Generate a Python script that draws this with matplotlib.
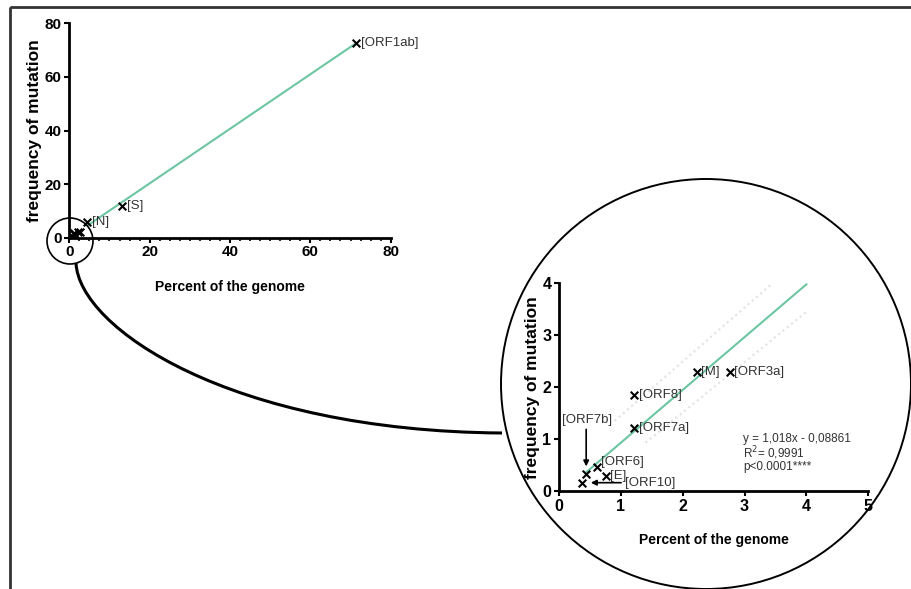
import matplotlib
matplotlib.use("Agg")
import matplotlib.pyplot as plt
from matplotlib.patches import Circle, Rectangle, PathPatch
from matplotlib.path import Path
from matplotlib.ticker import MultipleLocator

plt.rcParams['font.family'] = ['Liberation Sans', 'DejaVu Sans']

# data
genes = ['ORF1ab', 'S', 'N', 'M', 'ORF3a', 'ORF8', 'ORF7a', 'ORF6', 'E', 'ORF7b', 'ORF10']
genome_pct = [71.3, 13.0, 4.3, 2.23, 2.76, 1.22, 1.22, 0.61, 0.76, 0.44, 0.38]
mut_freq = [72.6, 11.8, 6.0, 2.29, 2.29, 1.84, 1.22, 0.47, 0.29, 0.32, 0.16]
label_dy = [0, 0, 0, 0, 0, 0, 0, 0.08, 0, 0, 0]

main_fit_x = [4.5, 71.3]
main_fit_y = [4.5, 72.5]
zoom_fit_x = [0.44, 4.0]
zoom_fit_y = [0.36, 3.98]
band_hi_x = [0.9, 3.45]
band_hi_y = [1.35, 4.0]
band_lo_x = [1.4, 4.0]
band_lo_y = [0.93, 3.45]

eq_lines = ['y = 1,018x - 0,08861', 'R$^2$= 0,9991', 'p<0.0001****']

green = '#6cc6a2'
txt = '#333333'

fig = plt.figure(figsize=(9.12, 5.89), dpi=100)


def style(ax, size):
    for s in ['top', 'right']:
        ax.spines[s].set_visible(False)
    for s in ['left', 'bottom']:
        ax.spines[s].set_linewidth(2.0)
    ax.tick_params(width=1.5, length=3.5, labelsize=size, pad=2)
    for lab in ax.get_xticklabels() + ax.get_yticklabels():
        lab.set_fontweight('bold')


# main chart
ax = fig.add_axes([0.076, 0.5964, 0.3524, 0.364])
ax.plot(main_fit_x, main_fit_y, color=green, lw=1.5, zorder=1)
ax.scatter(genome_pct, mut_freq, marker='x', color='black', s=30, lw=1.5, zorder=3)
for g, x, y in zip(genes[:3], genome_pct[:3], mut_freq[:3]):
    ax.text(x + 1.3, y, '[' + g + ']', fontsize=9.5, color=txt, va='center', ha='left')
ax.set_xlim(0, 80)
ax.set_ylim(0, 80)
ax.set_xticks([0, 20, 40, 60, 80])
ax.set_yticks([0, 20, 40, 60, 80])
ax.xaxis.set_minor_locator(MultipleLocator(2.5))
ax.tick_params(axis='x', which='minor', length=2, width=1.2)
style(ax, 11)
ax.set_xlabel('Percent of the genome', fontsize=10, fontweight='bold', labelpad=15)
ax.set_ylabel('frequency of mutation', fontsize=12.5, fontweight='bold', labelpad=2)

# zoomed chart
ax2 = fig.add_axes([0.6129, 0.1664, 0.3391, 0.3526])
ax2.plot(band_hi_x, band_hi_y, color='#e2e2e2', lw=1.5, ls=':', zorder=0)
ax2.plot(band_lo_x, band_lo_y, color='#e2e2e2', lw=1.5, ls=':', zorder=0)
ax2.plot(zoom_fit_x, zoom_fit_y, color=green, lw=1.5, zorder=1)
ax2.scatter(genome_pct[3:], mut_freq[3:], marker='x', color='black', s=30, lw=1.5, zorder=3)
for g, x, y, dy in zip(genes[3:9], genome_pct[3:9], mut_freq[3:9], label_dy[3:9]):
    ax2.text(x + 0.07, y + dy, '[' + g + ']', fontsize=9.5, color=txt, va='center', ha='left')
ax2.text(0.45, 1.37, '[ORF7b]', fontsize=9.5, color=txt, va='center', ha='center')
ax2.annotate('', xy=(0.44, 0.42), xytext=(0.44, 1.24),
             arrowprops=dict(arrowstyle='-|>', color='black', lw=1.2, mutation_scale=8))
ax2.text(1.07, 0.16, '[ORF10]', fontsize=9.5, color=txt, va='center', ha='left')
ax2.annotate('', xy=(0.47, 0.16), xytext=(1.05, 0.16),
             arrowprops=dict(arrowstyle='-|>', color='black', lw=1.2, mutation_scale=8))
for i, line in enumerate(eq_lines):
    ax2.text(2.98, 1.0 - i * 0.27, line, fontsize=8.5, color=txt, va='center', ha='left')
ax2.set_xlim(0, 5)
ax2.set_ylim(0, 4)
ax2.set_xticks([0, 1, 2, 3, 4, 5])
ax2.set_yticks([0, 1, 2, 3, 4])
style(ax2, 11.5)
ax2.set_xlabel('Percent of the genome', fontsize=10, fontweight='bold', labelpad=14)
ax2.set_ylabel('frequency of mutation', fontsize=12.5, fontweight='bold', labelpad=2)

# decorations in pixel space: frame, circles, connector
deco = fig.add_axes([0, 0, 1, 1], zorder=5)
deco.set_xlim(0, 912)
deco.set_ylim(589, 0)
deco.axis('off')
deco.patch.set_visible(False)
deco.add_patch(Rectangle((10, 7), 950, 640, fill=False, lw=2.0, ec='#333333'))
deco.add_patch(Circle((70, 241), 23, fill=False, lw=1.2, ec='black'))
deco.add_patch(Circle((706, 384), 205, fill=False, lw=1.4, ec='black'))
conn = Path([(76, 263), (79, 328), (230, 431), (502, 433)],
            [Path.MOVETO, Path.CURVE4, Path.CURVE4, Path.CURVE4])
deco.add_patch(PathPatch(conn, fill=False, lw=2.2, ec='black'))

fig.savefig('out.png', dpi=100)
